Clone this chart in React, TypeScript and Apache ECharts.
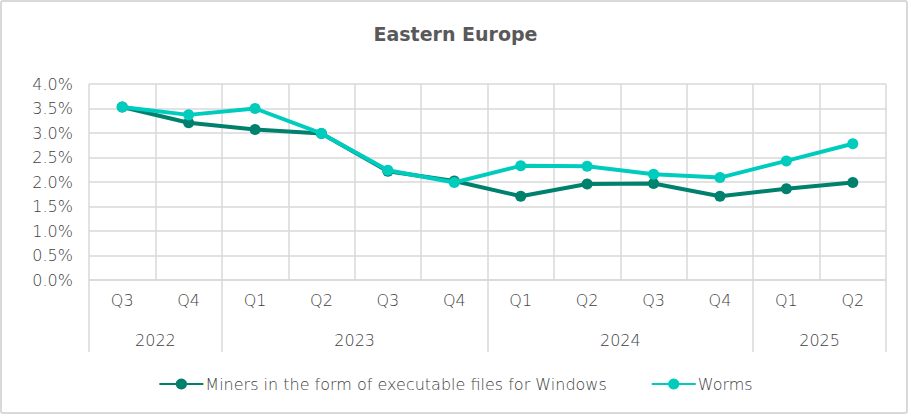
import React, { useEffect, useRef } from "react";
import * as echarts from "echarts";

const quarters = ["Q3", "Q4", "Q1", "Q2", "Q3", "Q4", "Q1", "Q2", "Q3", "Q4", "Q1", "Q2"];
const years = ["2022", "2023", "2024", "2025"];
const yearSpans = [2, 4, 4, 2];
const miners = [3.53, 3.21, 3.07, 2.99, 2.22, 2.02, 1.71, 1.96, 1.97, 1.71, 1.86, 1.99];
const worms = [3.53, 3.37, 3.5, 2.99, 2.24, 1.99, 2.33, 2.32, 2.16, 2.09, 2.43, 2.78];
const seriesNames = ["Miners in the form of executable files for Windows", "Worms"];
const colors = ["#00816d", "#00ccbe"];

const FONT = "DejaVu Sans";
const GRAY = "#d9d9d9";
const TEXT = "#595959";
const LABEL = "#3f3f3f";

export default function App() {
  const ref = useRef<HTMLDivElement>(null);
  useEffect(() => {
    if (!ref.current) return;
    const chart = echarts.init(ref.current, null, { renderer: "svg" });
    const starts: number[] = [];
    const centers: Record<number, string> = {};
    let acc = 0;
    yearSpans.forEach((s, i) => {
      starts.push(acc);
      centers[acc + s / 2] = years[i];
      acc += s;
    });
    const label = { fontFamily: FONT, fontSize: 16, color: LABEL, fontWeight: 200 };
    chart.setOption({
      animation: false,
      title: {
        text: "Eastern Europe",
        left: "center",
        top: 19,
        textStyle: { fontFamily: FONT, fontSize: 19, fontWeight: "bold", color: TEXT },
      },
      graphic: [
        {
          type: "rect",
          shape: { x: 1, y: 1, width: 906, height: 412, r: 2 },
          style: { fill: "none", stroke: GRAY, lineWidth: 2 },
          silent: true,
        },
      ],
      legend: {
        bottom: 19,
        left: "center",
        itemWidth: 44,
        itemHeight: 14,
        itemGap: 44,
        textStyle: { ...label, padding: [0, 0, 0, -3] },
        data: seriesNames,
      },
      grid: { left: 89, right: 25, top: 84, bottom: 136, containLabel: false },
      xAxis: [
        {
          type: "category",
          data: quarters,
          boundaryGap: true,
          axisLine: { show: true, lineStyle: { color: GRAY, width: 1.5 } },
          axisTick: {
            show: true,
            length: 72,
            interval: (idx: number) => starts.includes(idx),
            lineStyle: { color: GRAY, width: 1.5 },
          },
          splitLine: { show: true, interval: 0, lineStyle: { color: GRAY, width: 1.5 } },
          axisLabel: { interval: 0, margin: 12, ...label },
        },
        {
          type: "value",
          position: "bottom",
          min: 0,
          max: quarters.length,
          interval: 1,
          axisLine: { show: false },
          axisTick: { show: false },
          splitLine: { show: false },
          axisLabel: {
            margin: 52,
            ...label,
            formatter: (v: number) => centers[v] || "",
          },
        },
      ],
      yAxis: {
        type: "value",
        min: 0,
        max: 4,
        interval: 0.5,
        axisLine: { show: false },
        axisTick: { show: false },
        splitLine: { show: true, lineStyle: { color: GRAY, width: 1.5 } },
        axisLabel: {
          margin: 16,
          ...label,
          formatter: (v: number) => v.toFixed(1) + "%",
        },
      },
      series: [
        {
          name: seriesNames[0],
          type: "line",
          data: miners,
          xAxisIndex: 0,
          symbol: "circle",
          symbolSize: 11,
          lineStyle: { width: 4, color: colors[0] },
          itemStyle: { color: colors[0] },
          z: 2,
        },
        {
          name: seriesNames[1],
          type: "line",
          data: worms,
          xAxisIndex: 0,
          symbol: "circle",
          symbolSize: 11,
          lineStyle: { width: 4, color: colors[1] },
          itemStyle: { color: colors[1] },
          z: 3,
        },
      ],
    });
    return () => chart.dispose();
  }, []);
  return (
    <div
      ref={ref}
      style={{ position: "fixed", left: 0, top: 0, width: 911, height: 416, background: "#fff" }}
    />
  );
}
